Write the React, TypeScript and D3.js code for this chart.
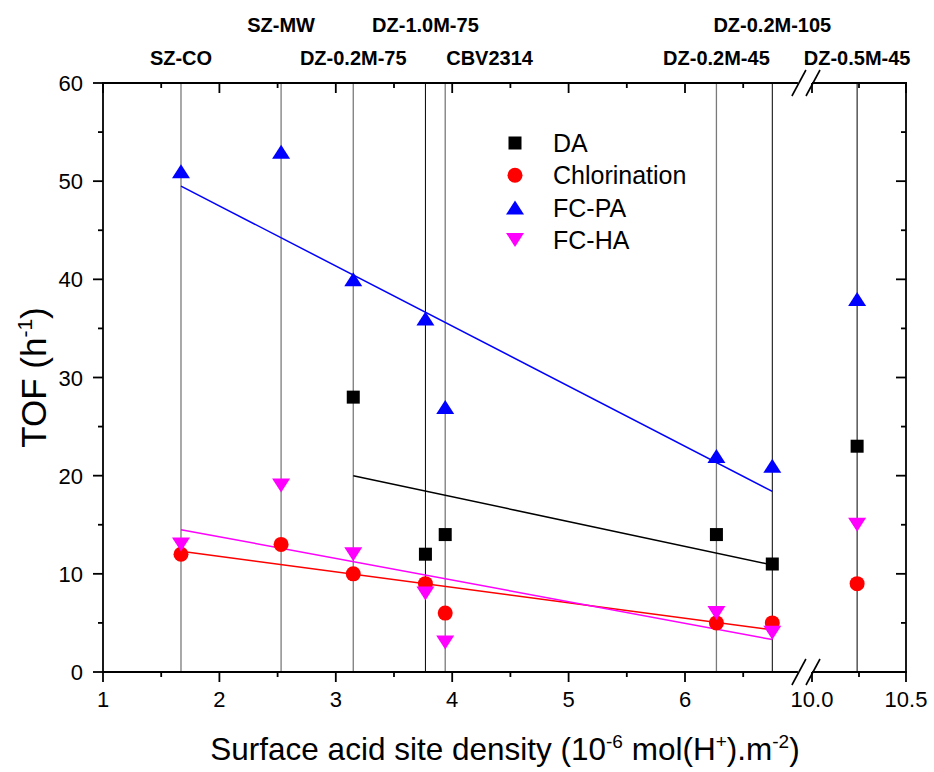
import React from 'react';
import * as d3 from 'd3';

const samples = ['SZ-CO', 'SZ-MW', 'DZ-0.2M-75', 'DZ-1.0M-75', 'CBV2314', 'DZ-0.2M-45', 'DZ-0.2M-105', 'DZ-0.5M-45'];
const density = [1.67, 2.53, 3.15, 3.77, 3.94, 6.27, 6.75, 10.24];
const guideGray = [true, true, true, false, true, true, false, false];
const labelRow = [1, 0, 1, 0, 1, 1, 0, 1];
const labelStart = [false, false, false, false, true, false, false, false];

const daVals: (number | null)[] = [null, null, 28, 12, 14, 14, 11, 23];
const chlorVals = [12, 13, 10, 9, 6, 5, 5, 9];
const fcpaVals = [51, 53, 40, 36, 27, 22, 21, 38];
const fchaVals = [13, 19, 12, 8, 3, 6, 4, 15];

// fitted lines: [x0, x1], [y0, y1]
const fitDA = { x: [3.15, 6.75], y: [20.0, 10.9] };
const fitChlor = { x: [1.67, 6.75], y: [12.3, 4.3] };
const fitFCPA = { x: [1.67, 6.75], y: [49.5, 18.4] };
const fitFCHA = { x: [1.67, 6.75], y: [14.5, 3.3] };

const legendNames = ['DA', 'Chlorination', 'FC-PA', 'FC-HA'];
const yTicks = [0, 10, 20, 30, 40, 50, 60];
const yMinor = [5, 15, 25, 35, 45, 55];
const xTicks1 = [1, 2, 3, 4, 5, 6];
const xMinor1 = [1.5, 2.5, 3.5, 4.5, 5.5, 6.5];
const xTicks2 = [10.0, 10.5];
const xMinor2 = [10.25];

const W = 934, H = 772;
const L = 103, R = 906, T = 83, B = 672;
const FONT = 'Liberation Sans, Arial, sans-serif';

export default function App() {
  const xs1 = d3.scaleLinear().domain([1, 6.97]).range([L, L + 5.97 * 116.4]);
  const xs2 = d3.scaleLinear().domain([10, 10.5]).range([812, R]);
  const xp = (v: number) => (v < 8 ? xs1(v) : xs2(v));
  const y = d3.scaleLinear().domain([0, 60]).range([B, T]);
  const brk1 = xs1.range()[1];
  const brk2 = xs2.range()[0];

  const line = d3.line<[number, number]>().x(d => xp(d[0])).y(d => y(d[1]));
  const fitPath = (f: { x: number[]; y: number[] }) => line(f.x.map((xx, i) => [xx, f.y[i]] as [number, number])) || '';

  const square = (cx: number, cy: number, key: string) => (
    <rect key={key} x={cx - 6.5} y={cy - 6.5} width={13} height={13} fill="#000" />
  );
  const circle = (cx: number, cy: number, key: string) => (
    <circle key={key} cx={cx} cy={cy} r={7.5} fill="#ff0000" />
  );
  const triUp = (cx: number, cy: number, key: string) => (
    <path key={key} d={`M${cx},${cy - 7}L${cx + 9},${cy + 7}L${cx - 9},${cy + 7}Z`} fill="#0000ff" />
  );
  const triDown = (cx: number, cy: number, key: string) => (
    <path key={key} d={`M${cx},${cy + 7}L${cx + 9},${cy - 7}L${cx - 9},${cy - 7}Z`} fill="#ff00ff" />
  );

  const slash = (cx: number, cy: number, key: string) => (
    <line key={key} x1={cx - 7} y1={cy + 13} x2={cx + 7} y2={cy - 13} stroke="#000" strokeWidth={1.6} />
  );

  const xMajAll = [...xTicks1.map(v => xs1(v)), ...xTicks2.map(v => xs2(v))];
  const xMinAll = [...xMinor1.map(v => xs1(v)), ...xMinor2.map(v => xs2(v))];

  const legendMarkers = [square, circle, triUp, triDown];

  return (
    <svg width={W} height={H} style={{ position: 'absolute', left: 0, top: 0, background: '#fff' }} fontFamily={FONT}>
      <rect x={0} y={0} width={W} height={H} fill="#fff" />
      {/* guide vertical lines */}
      {density.map((d, i) => (
        <line key={'g' + i} x1={xp(d)} x2={xp(d)} y1={T} y2={B} stroke={guideGray[i] ? '#7a7a7a' : '#000'} strokeWidth={guideGray[i] ? 1.3 : 1} />
      ))}
      {/* sample labels */}
      {samples.map((s, i) => (
        <text key={'s' + i} x={labelStart[i] ? xp(density[i]) + 1 : xp(density[i])} y={labelRow[i] === 0 ? 32 : 65}
          textAnchor={labelStart[i] ? 'start' : 'middle'} fontWeight="bold" fontSize={20}>{s}</text>
      ))}
      {/* fit lines */}
      <path d={fitPath(fitFCPA)} stroke="#0000ff" strokeWidth={1.5} fill="none" />
      <path d={fitPath(fitDA)} stroke="#000" strokeWidth={1.5} fill="none" />
      <path d={fitPath(fitChlor)} stroke="#ff0000" strokeWidth={1.5} fill="none" />
      <path d={fitPath(fitFCHA)} stroke="#ff00ff" strokeWidth={1.5} fill="none" />
      {/* markers */}
      {daVals.map((v, i) => (v == null ? null : square(xp(density[i]), y(v), 'da' + i)))}
      {chlorVals.map((v, i) => circle(xp(density[i]), y(v), 'cl' + i))}
      {fcpaVals.map((v, i) => triUp(xp(density[i]), y(v), 'pa' + i))}
      {fchaVals.map((v, i) => triDown(xp(density[i]), y(v), 'ha' + i))}

      {/* frame */}
      <g stroke="#000" strokeWidth={1.8} fill="none">
        <line x1={L} x2={L} y1={T} y2={B + 1} />
        <line x1={R} x2={R} y1={T} y2={B + 1} />
        <line x1={L - 1} x2={brk1} y1={B} y2={B} />
        <line x1={brk2} x2={R + 1} y1={B} y2={B} />
        <line x1={L - 1} x2={brk1} y1={T} y2={T} />
        <line x1={brk2} x2={R + 1} y1={T} y2={T} />
      </g>
      {/* break marks */}
      {slash(brk1 + 1, B, 'b1')}{slash(brk2 + 1, B, 'b2')}
      {slash(brk1 + 1, T, 't1')}{slash(brk2 + 1, T, 't2')}

      {/* ticks */}
      <g stroke="#000" strokeWidth={1.8}>
        {xMajAll.map((px, i) => <line key={'xb' + i} x1={px} x2={px} y1={B} y2={B + 10} />)}
        {xMinAll.map((px, i) => <line key={'xbm' + i} x1={px} x2={px} y1={B} y2={B + 5} />)}
        {xMajAll.map((px, i) => <line key={'xt' + i} x1={px} x2={px} y1={T} y2={T + 10} />)}
        {xMinAll.map((px, i) => <line key={'xtm' + i} x1={px} x2={px} y1={T} y2={T + 5} />)}
        {yTicks.map((v, i) => <line key={'yl' + i} x1={L - 10} x2={L} y1={y(v)} y2={y(v)} />)}
        {yMinor.map((v, i) => <line key={'ylm' + i} x1={L - 5} x2={L} y1={y(v)} y2={y(v)} />)}
        {yTicks.map((v, i) => <line key={'yr' + i} x1={R - 10} x2={R} y1={y(v)} y2={y(v)} />)}
        {yMinor.map((v, i) => <line key={'yrm' + i} x1={R - 5} x2={R} y1={y(v)} y2={y(v)} />)}
      </g>
      {/* tick labels */}
      {xTicks1.map((v, i) => (
        <text key={'xl' + i} x={xs1(v)} y={707} textAnchor="middle" fontSize={22}>{d3.format('d')(v)}</text>
      ))}
      {xTicks2.map((v, i) => (
        <text key={'xl2' + i} x={xs2(v)} y={707} textAnchor="middle" fontSize={22}>{d3.format('.1f')(v)}</text>
      ))}
      {yTicks.map((v, i) => (
        <text key={'ylab' + i} x={L - 20} y={y(v) + 8} textAnchor="end" fontSize={22}>{v}</text>
      ))}

      {/* axis titles */}
      <text x={505} y={760} textAnchor="middle" fontSize={31.5}>
        Surface acid site density (10<tspan fontSize={19} dy={-12}>-6</tspan><tspan dy={12}> mol(H</tspan><tspan fontSize={19} dy={-12}>+</tspan><tspan dy={12}>).m</tspan><tspan fontSize={19} dy={-12}>-2</tspan><tspan dy={12}>)</tspan>
      </text>
      <text transform={`translate(46,${(T + B) / 2}) rotate(-90)`} textAnchor="middle" fontSize={35}>
        TOF (h<tspan fontSize={21} dy={-14}>-1</tspan><tspan dy={14}>)</tspan>
      </text>

      {/* legend */}
      {legendNames.map((n, i) => (
        <g key={'lg' + i}>
          {legendMarkers[i](515, 143 + i * 32.3, 'lm' + i)}
          <text x={553} y={143 + i * 32.3 + 9} fontSize={25}>{n}</text>
        </g>
      ))}
    </svg>
  );
}
